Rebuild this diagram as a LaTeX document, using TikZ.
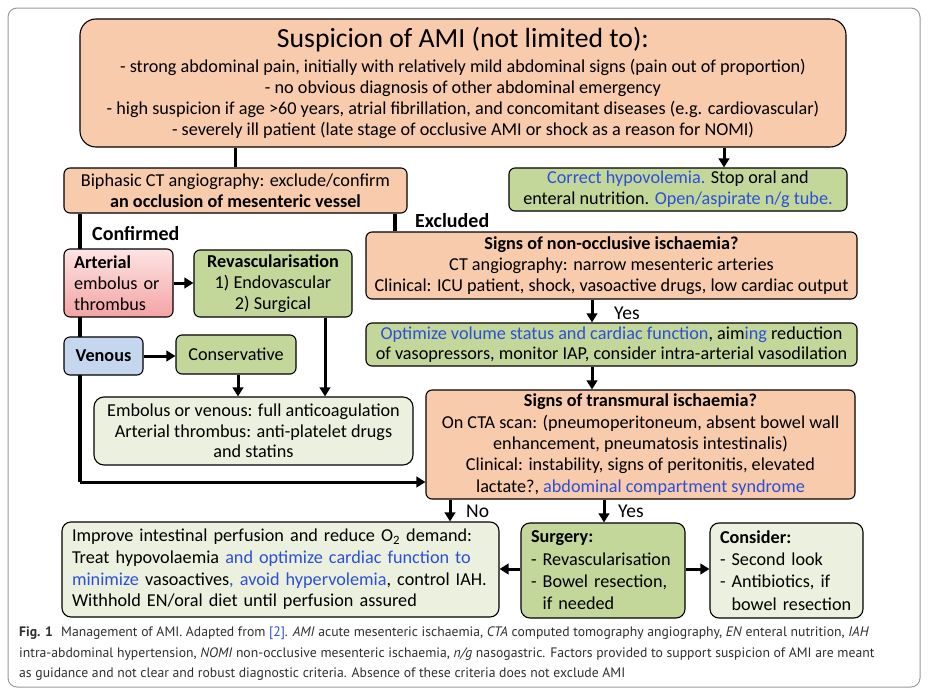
\documentclass[tikz,border=0pt]{standalone}
\usepackage{fontspec}
\setmainfont{Carlito}
\newfontfamily\capfont{PT Sans}
\usetikzlibrary{arrows.meta,calc}
\definecolor{peach}{HTML}{F8CBAD}
\definecolor{grn}{HTML}{C4D79B}
\definecolor{lgrn}{HTML}{EBF1DE}
\definecolor{vblue}{HTML}{C5D7EE}
\definecolor{btxt}{HTML}{2B50D6}
\definecolor{pinktop}{HTML}{FDE4E4}
\definecolor{pinkbot}{HTML}{F4A3A3}
\definecolor{framecol}{HTML}{9A9A9A}
\newcommand{\bt}[1]{{\color{btxt}#1}}
\tikzset{
  bx/.style={draw, line width=1.1pt, rounded corners=6pt, inner sep=0pt, align=center,
    font=\fontsize{18.2}{20.7}\selectfont},
  conn/.style={line width=3.6pt},
  arr/.style={line width=3pt, -{Triangle[length=9pt,width=10.5pt]}},
  lbl/.style={inner sep=0pt, font=\fontsize{19.5}{22}\selectfont},
  captxt/.style={inner sep=0pt, anchor=west, font=\capfont\fontsize{13.7}{16}\selectfont, text=black!82}
}
\begin{document}
\begin{tikzpicture}[x=1pt,y=-1pt]
\useasboundingbox (0,0) rectangle (932,696);
\draw[draw=framecol, line width=1pt, rounded corners=9pt] (8,8) rectangle (920,687);

% top box
\node[bx, fill=peach, rounded corners=16pt, minimum width=766pt, minimum height=128pt,
  font=\fontsize{18.2}{20.9}\selectfont] (top) at (463,83)
 {{\fontsize{27.7}{30}\selectfont Suspicion of AMI (not limited to):}\\[4pt]
  - strong abdominal pain, initially with relatively mild abdominal signs (pain out of proportion)\\
  - no obvious diagnosis of other abdominal emergency\\
  - high suspicion if age >60 years, atrial fibrillation, and concomitant diseases (e.g. cardiovascular)\\
  - severely ill patient (late stage of occlusive AMI or shock as a reason for NOMI)};

\node[bx, fill=peach, minimum width=343pt, minimum height=45pt] (biph) at (235.5,190.5)
 {Biphasic CT angiography: exclude/confirm\\ \textbf{an occlusion of mesenteric vessel}};

\node[bx, fill=grn, minimum width=338pt, minimum height=43pt] (corr) at (678,189.5)
 {\bt{Correct hypovolemia.} Stop oral and\\ enteral nutrition. \bt{Open/aspirate n/g tube.}};

\node[bx, fill=peach, minimum width=491pt, minimum height=67pt] (nonocc) at (611.5,265.5)
 {\textbf{Signs of non-occlusive ischaemia?}\\ CT angiography: narrow mesenteric arteries\\
  Clinical: ICU patient, shock, vasoactive drugs, low cardiac output};

\node[bx, fill=grn, minimum width=491pt, minimum height=43pt] (opt) at (611.5,344.5)
 {\bt{Optimize volume status and cardiac function}, aim\bt{ing} reduction\\
  of vasopressors, monitor IAP, consider intra-arterial vasodilation};

\node[bx, fill=peach, minimum width=429pt, minimum height=109pt, font=\fontsize{18.2}{21.3}\selectfont] (trans) at (640.5,444.5)
 {\textbf{Signs of transmural ischaemia?}\\ On CTA scan: (pneumoperitoneum, absent bowel wall\\
  enhancement, pneumatosis intestinalis)\\ Clinical: instability, signs of peritonitis, elevated\\
  lactate?, \bt{abdominal compartment syndrome}};

\node[bx, fill=grn, minimum width=158pt, minimum height=67pt] (rev) at (273,283.5)
 {\textbf{Revascularisation}\\ 1) Endovascular\\ 2) Surgical};

\node[bx, fill=grn, minimum width=120pt, minimum height=39pt] (cons) at (236,354.5)
 {Conservative};

\node[bx, fill=lgrn, rounded corners=10pt, minimum width=319pt, minimum height=68pt] (anti) at (253.5,431)
 {Embolus or venous: full anticoagulation\\ Arterial thrombus: anti-platelet drugs\\ and statins};

\node[bx, fill=lgrn, rounded corners=9pt, minimum width=437pt, minimum height=95pt,
  text width=417pt, align=left, inner xsep=10pt, font=\fontsize{18.2}{21.7}\selectfont] (imp) at (280.5,569.5)
 {Improve intestinal perfusion and reduce O\textsubscript{2} demand:\\
  Treat hypovolaemia \bt{and optimize cardiac function to}\\
  \bt{minimize} vasoactives\bt{, avoid hypervolemia}, control IAH.\\
  Withhold EN/oral diet until perfusion assured};

\node[bx, fill=grn, rounded corners=9pt, minimum width=164pt, minimum height=95pt,
  text width=144pt, align=left, inner xsep=10pt, font=\fontsize{18.2}{22.3}\selectfont] (surg) at (603,570.5)
 {\textbf{Surgery:}\\ - Revascularisation\\ - Bowel resection,\\ \hphantom{- }if needed};

\node[bx, fill=lgrn, rounded corners=9pt, minimum width=153pt, minimum height=95pt,
  text width=133pt, align=left, inner xsep=10pt, font=\fontsize{18.2}{22.3}\selectfont] (consd) at (786.5,570.5)
 {\textbf{Consider:}\\ - Second look\\ - Antibiotics, if\\ \hphantom{- }bowel resection};

% helper coordinates
\coordinate (x724) at (724,0);
\coordinate (x80) at (80,0);
\coordinate (x395) at (395,0);
\coordinate (x592) at (592,0);
\coordinate (x238) at (238,0);
\coordinate (x325) at (325,0);
\coordinate (x450) at (450,0);
\coordinate (x604) at (604,0);
\coordinate (cb) at (80,482);
\coordinate (y569) at (0,569);

% connectors
\draw[conn] (biph.north |- top.south) -- (biph.north);
\draw[arr] (top.south -| x724) -- (corr.north -| x724);
\draw[conn] (biph.south -| x80) -- (cb);
\draw[arr] (cb) -- (trans.west |- cb);
\draw[conn] (biph.south -| x395) -- (nonocc.north -| x395);
\draw[arr] (nonocc.south -| x592) -- (opt.north -| x592);
\draw[arr] (opt.south -| x592) -- (trans.north -| x592);

% boxes over the long left line
\node[bx, top color=pinktop, bottom color=pinkbot, minimum width=109pt, minimum height=68pt,
  text width=89pt, align=left, inner xsep=10pt] (art) at (118.5,283)
 {\textbf{Arterial}\\ embolus or\\ thrombus};
\node[bx, fill=vblue, minimum width=79pt, minimum height=38pt] (ven) at (103.5,356)
 {\textbf{Venous}};

\draw[arr] (art.east) -- (rev.west |- art.east);
\draw[arr] (ven.east) -- (cons.west |- ven.east);
\draw[arr] (cons.south -| x238) -- (anti.north -| x238);
\draw[arr] (rev.south -| x325) -- (anti.north -| x325);
\draw[arr] (trans.south -| x450) -- (imp.north -| x450);
\draw[arr] (trans.south -| x604) -- (surg.north -| x604);
\draw[arr] (surg.west |- y569) -- (imp.east |- y569);
\draw[arr] (surg.east |- y569) -- (consd.west |- y569);

% labels
\node[lbl, anchor=west, font=\bfseries\fontsize{20}{22}\selectfont] (confl) at (92,234) {Confirmed};
\node[lbl, anchor=west, font=\bfseries\fontsize{20}{22}\selectfont] (exl) at (415,221) {Excluded};
\node[lbl, anchor=west] (yes1) at (614,313) {Yes};
\node[lbl, anchor=west] (nol) at (466,511) {No};
\node[lbl, anchor=west] (yes2) at (618,511) {Yes};

% caption
\node[captxt] (cap1) at (19,633) {\textbf{Fig. 1}\hspace{0.6em}Management of AMI. Adapted from \bt{[2]}. \textit{AMI} acute mesenteric ischaemia, \textit{CTA} computed tomography angiography, \textit{EN} enteral nutrition, \textit{IAH}};
\node[captxt] (cap2) at (19,654) {intra-abdominal hypertension, \textit{NOMI} non-occlusive mesenteric ischaemia, \textit{n/g} nasogastric. Factors provided to support suspicion of AMI are meant};
\node[captxt] (cap3) at (19,674) {as guidance and not clear and robust diagnostic criteria. Absence of these criteria does not exclude AMI};
\end{tikzpicture}
\end{document}
